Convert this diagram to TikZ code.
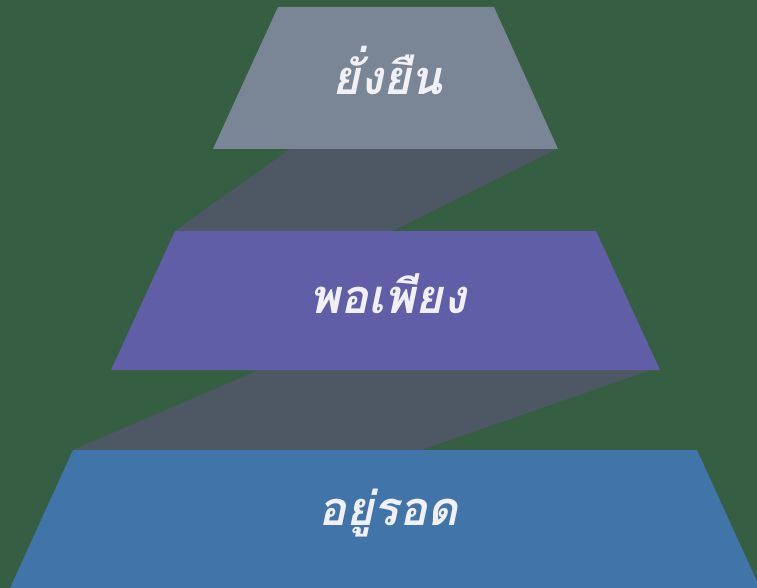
\documentclass[tikz,border=0pt]{standalone}
\usepackage{fontspec}
\newfontfamily\thaifont[Script=Thai]{Loma}
\definecolor{bgc}{HTML}{365E42}
\definecolor{topc}{HTML}{7A8595}
\definecolor{midc}{HTML}{5F5EA6}
\definecolor{botc}{HTML}{4174A8}
\definecolor{shadowc}{HTML}{4E5865}
\definecolor{txtc}{HTML}{F0F0F6}
\begin{document}
\begin{tikzpicture}[x=1pt,y=-1pt,
  label text/.style={text=txtc,font=\thaifont\bfseries\itshape\fontsize{47}{52}\selectfont,inner sep=0pt}]
\fill[bgc] (0,0) rectangle (757,588);
\useasboundingbox (0,0) rectangle (757,588);
% shadows
\fill[shadowc] (290,149) -- (557,149) -- (393,231) -- (175,231) -- cycle;
\fill[shadowc] (259,370) -- (651,370) -- (421,450) -- (73,450) -- cycle;
% tiers
\fill[topc] (278,7) -- (494,7) -- (558,149) -- (213,149) -- cycle;
\fill[midc] (175,231) -- (596,231) -- (660,370) -- (111,370) -- cycle;
\fill[botc] (73,450) -- (697,450) -- (760,588) -- (10,588) -- cycle;
\node[label text] (t1) at (388,70) {ยั่งยืน};
\node[label text] (t2) at (388,294) {พอเพียง};
\node[label text] (t3) at (388,513) {อยู่รอด};
\end{tikzpicture}
\end{document}
